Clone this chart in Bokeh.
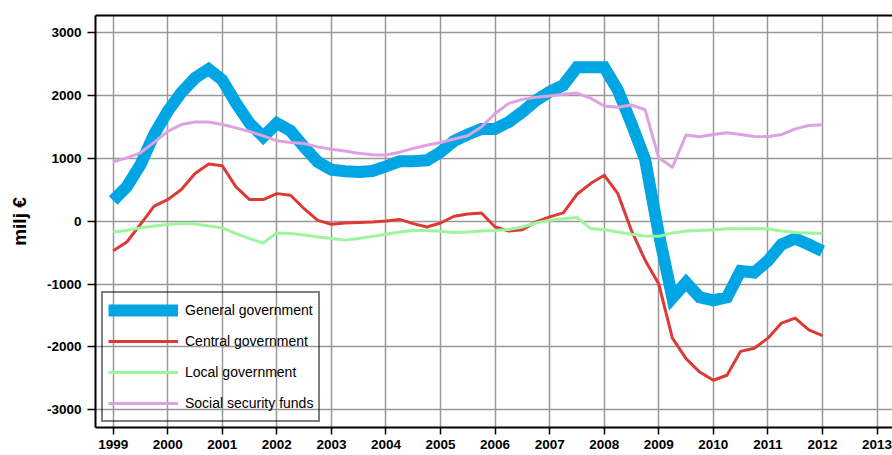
from bokeh.plotting import figure
from bokeh.models import Range1d, FixedTicker, Legend, LegendItem, LinearAxis
from bokeh.embed import file_html
from bokeh.resources import INLINE

# Quarterly values, 1999Q1 .. 2012Q1 (milj €)
general = [330, 550, 900, 1380, 1750, 2050, 2280, 2420, 2250, 1880, 1560, 1345, 1560,
           1440, 1180, 945, 820, 795, 785, 800, 875, 955, 955, 970, 1100, 1280, 1380,
           1470, 1470, 1580, 1740, 1925, 2060, 2165, 2450, 2450, 2450, 2085, 1555, 980,
           -200, -1220, -975, -1210, -1260, -1210, -790, -815, -630, -370, -275, -370, -475]
central = [-470, -330, -50, 240, 345, 505, 760, 910, 883, 548, 345, 345, 440,
           415, 200, 15, -48, -27, -20, -10, 5, 30, -37, -90, -27, 80, 115,
           133, -90, -154, -133, -10, 70, 133, 430, 600, 734, 440, -150, -620,
           -1000, -1860, -2185, -2400, -2530, -2450, -2070, -2020, -1860, -1620, -1540, -1730, -1820]
local = [-170, -145, -105, -75, -50, -30, -45, -75, -105, -195, -275, -345, -185,
         -195, -220, -250, -275, -300, -275, -240, -205, -170, -145, -145, -160, -180, -170,
         -155, -145, -130, -90, -27, 15, 40, 60, -117, -130, -170, -207, -235,
         -240, -185, -155, -145, -135, -117, -117, -117, -122, -155, -180, -185, -195]
social = [946, 1010, 1090, 1255, 1430, 1540, 1580, 1580, 1540, 1486, 1430, 1360, 1280,
          1255, 1238, 1184, 1146, 1120, 1081, 1060, 1054, 1100, 1160, 1210, 1255, 1310, 1360,
          1500, 1715, 1876, 1940, 1975, 1995, 2020, 2040, 1960, 1835, 1815, 1850, 1775,
          1010, 860, 1373, 1346, 1380, 1410, 1380, 1350, 1346, 1380, 1470, 1525, 1535]
series_names = ["General government", "Central government", "Local government", "Social security funds"]
year_ticks = list(range(1999, 2014))
year_labels = [str(y) for y in year_ticks]
value_ticks = [-3000, -2000, -1000, 0, 1000, 2000, 3000]
value_labels = ["-3000", "-2000", "-1000", "0", "1000", "2000", "3000"]
y_title = "milj €"

quarters = [1999 + i * 0.25 for i in range(len(general))]

FONT = "Liberation Sans"

p = figure(width=892, height=455, output_backend="svg", toolbar_location=None,
           x_range=Range1d(1998.676, 2013.284), y_range=Range1d(-3282, 3275),
           min_border_left=95, min_border_right=0, min_border_top=15, min_border_bottom=28)
p.outline_line_color = None
p.background_fill_color = "white"
p.border_fill_color = "white"

p.xaxis.ticker = FixedTicker(ticks=year_ticks)
p.xaxis.major_label_overrides = {t: l for t, l in zip(year_ticks, year_labels)}
p.yaxis.ticker = FixedTicker(ticks=value_ticks)
p.yaxis.major_label_overrides = {t: l for t, l in zip(value_ticks, value_labels)}

for ax in (p.xaxis, p.yaxis):
    ax.axis_line_color = "black"
    ax.axis_line_width = 2
    ax.major_tick_line_color = "black"
    ax.major_tick_line_width = 1.5
    ax.major_tick_in = 0
    ax.minor_tick_line_color = None
    ax.major_label_text_font = FONT
    ax.major_label_text_font_style = "bold"
    ax.major_label_text_font_size = "13.5px"
    ax.major_label_text_color = "black"

p.xaxis.major_tick_out = 7
p.xaxis.major_label_standoff = 5
p.yaxis.major_tick_out = 8
p.yaxis.major_label_standoff = 6
p.yaxis.axis_label = y_title
p.yaxis.axis_label_text_font = FONT
p.yaxis.axis_label_text_font_style = "bold"
p.yaxis.axis_label_text_font_size = "19px"
p.yaxis.axis_label_text_color = "black"
p.yaxis.axis_label_standoff = 14

# top frame line
top = LinearAxis(ticker=FixedTicker(ticks=[]), axis_line_color="black", axis_line_width=2,
                 major_tick_line_color=None, minor_tick_line_color=None,
                 major_label_text_font_size="0px")
p.add_layout(top, "above")

for g in (p.xgrid, p.ygrid):
    g.grid_line_color = "#999999"
    g.grid_line_width = 1.5

r1 = p.line(quarters, general, line_color="#00a6e4", line_width=12, line_join="miter")
r2 = p.line(quarters, central, line_color="#de3a35", line_width=3, line_join="round")
r3 = p.line(quarters, local, line_color="#9df59d", line_width=3, line_join="round")
r4 = p.line(quarters, social, line_color="#dea2e0", line_width=3, line_join="round")

legend = Legend(items=[LegendItem(label=n, renderers=[r]) for n, r in zip(series_names, [r1, r2, r3, r4])],
                location=(6, 5))
legend.glyph_width = 70
legend.glyph_height = 24
legend.label_height = 24
legend.spacing = 7
legend.padding = 5
legend.margin = 0
legend.label_standoff = 7
legend.border_line_color = "black"
legend.border_line_width = 2
legend.background_fill_alpha = 0
legend.label_text_font = FONT
legend.label_text_font_size = "14px"
legend.label_text_color = "black"
p.add_layout(legend)

open("out.html", "w").write(file_html(p, INLINE))
